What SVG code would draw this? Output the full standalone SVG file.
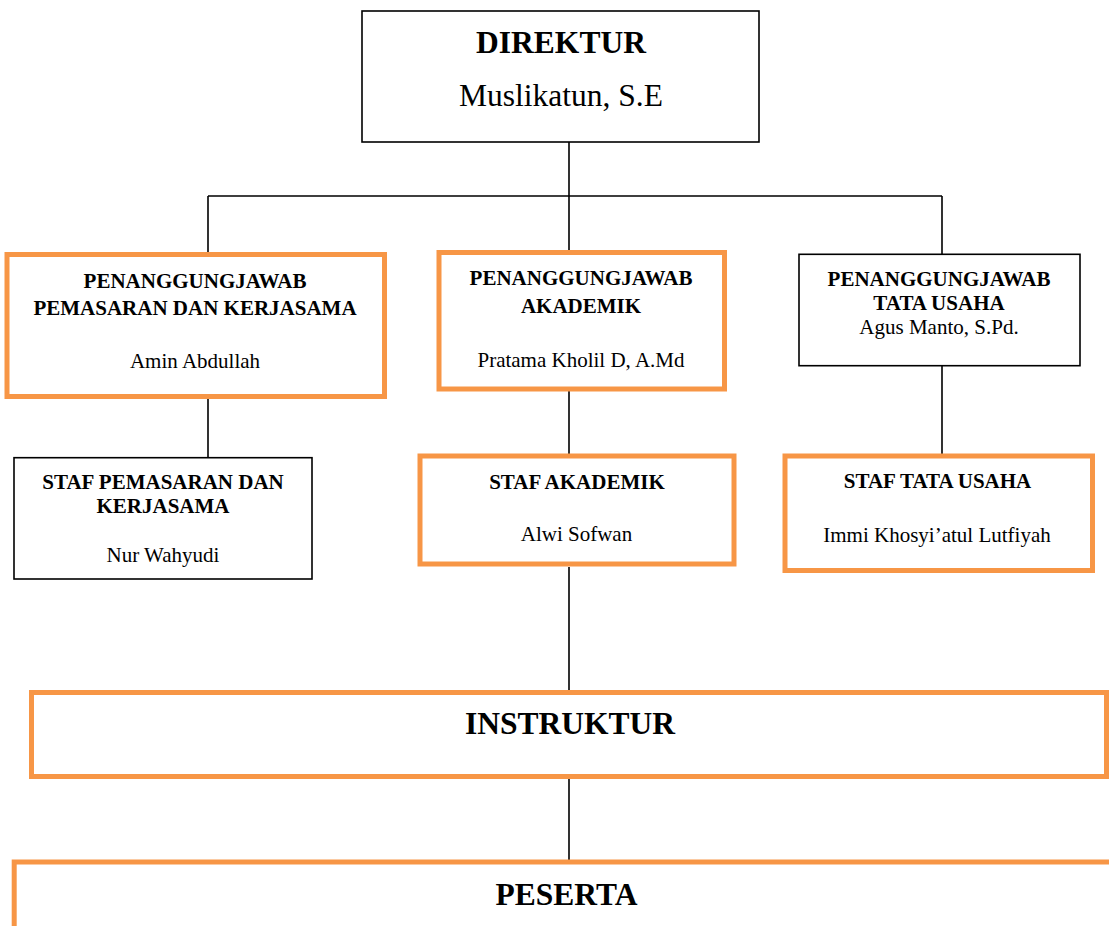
<svg xmlns="http://www.w3.org/2000/svg" width="1109" height="926" viewBox="0 0 1109 926">
<style>
.bk{fill:#fff;stroke:#000;stroke-width:1.6}
.or{fill:#fff;stroke:#F79646;stroke-width:5}
.ln{fill:none;stroke:#000;stroke-width:1.6}
text{font-family:"Liberation Serif","Times New Roman",serif;fill:#000;text-anchor:middle}
.b{font-weight:bold}
.s21{font-size:21px}
.s31{font-size:31.5px}
</style>
<rect width="1109" height="926" fill="#fff"/>
<g id="connectors">
<path class="ln" d="M569,142V196M208,196H942M208,196V253M569,196V251M942,196V254"/>
<path class="ln" d="M208,397V458M569,389V454M942,366V454M569,567V690M569,779V860"/>
</g>
<g id="direktur">
<rect class="bk" x="362" y="11" width="397" height="131"/>
<text class="b s31" x="561" y="52.5">DIREKTUR</text>
<text class="s31" x="561" y="106">Muslikatun, S.E</text>
</g>
<g id="pj-pemasaran">
<rect class="or" x="7" y="254.5" width="377.5" height="142"/>
<text class="b s21" x="195" y="288">PENANGGUNGJAWAB</text>
<text class="b s21" x="195" y="315">PEMASARAN DAN KERJASAMA</text>
<text class="s21" x="195" y="368">Amin Abdullah</text>
</g>
<g id="pj-akademik">
<rect class="or" x="439" y="252.5" width="285.5" height="136.5"/>
<text class="b s21" x="581" y="285">PENANGGUNGJAWAB</text>
<text class="b s21" x="581" y="312.5">AKADEMIK</text>
<text class="s21" x="581" y="367">Pratama Kholil D, A.Md</text>
</g>
<g id="pj-tatausaha">
<rect class="bk" x="799" y="254.3" width="281" height="111.4"/>
<text class="b s21" x="939" y="285.5">PENANGGUNGJAWAB</text>
<text class="b s21" x="939" y="310">TATA USAHA</text>
<text class="s21" x="939" y="334">Agus Manto, S.Pd.</text>
</g>
<g id="staf-pemasaran">
<rect class="bk" x="14" y="457.7" width="298" height="121.3"/>
<text class="b s21" x="163" y="489">STAF PEMASARAN DAN</text>
<text class="b s21" x="163" y="513">KERJASAMA</text>
<text class="s21" x="163" y="561.5">Nur Wahyudi</text>
</g>
<g id="staf-akademik">
<rect class="or" x="420" y="456" width="314" height="108"/>
<text class="b s21" x="577" y="489">STAF AKADEMIK</text>
<text class="s21" x="576.5" y="541">Alwi Sofwan</text>
</g>
<g id="staf-tatausaha">
<rect class="or" x="785" y="456" width="307.5" height="114.5"/>
<text class="b s21" x="937.5" y="488">STAF TATA USAHA</text>
<text class="s21" x="937" y="541.5">Immi Khosyi’atul Lutfiyah</text>
</g>
<g id="instruktur">
<rect class="or" x="31.5" y="692.5" width="1075" height="84"/>
<text class="b s31" x="570" y="734">INSTRUKTUR</text>
</g>
<g id="peserta">
<rect class="or" x="14.2" y="862" width="1120" height="100"/>
<text class="b s31" x="566.5" y="905">PESERTA</text>
</g>
</svg>
